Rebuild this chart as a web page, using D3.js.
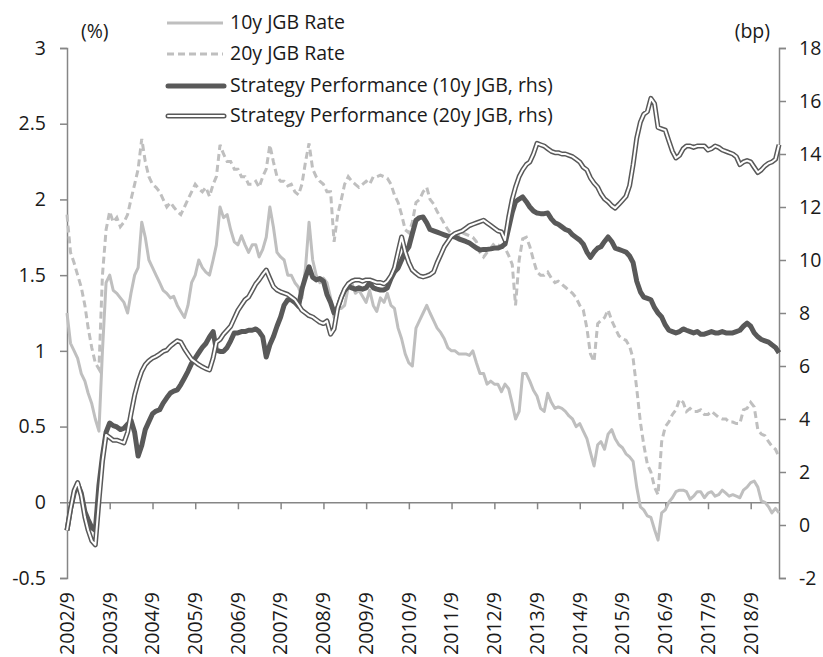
<!DOCTYPE html>
<html>
<head>
<meta charset="utf-8">
<script src="https://cdnjs.cloudflare.com/ajax/libs/d3/7.8.5/d3.min.js"></script>
<style>
  body { margin: 0; background: #fff; }
  svg { font-family: "Open Sans", "Liberation Sans", Arial, sans-serif; }
</style>
</head>
<body>
<div id="chart"></div>
<script>
// monthly observations, 2002/9 .. 2019/5
const startMonth = new Date(2002, 8, 1);

// 10y JGB rate (%)
const jgb10 = [
  1.25, 1.05, 1.0, 0.95, 0.85, 0.8, 0.72, 0.65, 0.55, 0.47, 1.0, 1.45,
  1.5, 1.4, 1.38, 1.35, 1.32, 1.25, 1.38, 1.5, 1.55, 1.85, 1.75, 1.6,
  1.55, 1.5, 1.45, 1.4, 1.38, 1.35, 1.36, 1.3, 1.26, 1.22, 1.3, 1.45,
  1.5, 1.6, 1.55, 1.52, 1.5, 1.6, 1.7, 1.95, 1.88, 1.9, 1.8, 1.72,
  1.7, 1.76, 1.7, 1.65, 1.7, 1.7, 1.62, 1.67, 1.75, 1.95, 1.82, 1.65,
  1.62, 1.6, 1.5, 1.5, 1.45, 1.42, 1.35, 1.55, 1.85, 1.6, 1.5, 1.45,
  1.48, 1.45, 1.35, 1.22, 1.28, 1.28, 1.3, 1.42, 1.45, 1.38, 1.4, 1.36,
  1.32, 1.4, 1.3, 1.26, 1.35, 1.32, 1.38, 1.3, 1.28, 1.15, 1.08, 0.98,
  0.92, 0.9, 1.15, 1.2, 1.25, 1.3, 1.25, 1.2, 1.15, 1.12, 1.08, 1.02,
  1.0, 1.0, 0.98, 0.98, 0.98, 0.97, 1.0, 0.92, 0.85, 0.85, 0.78, 0.8,
  0.78, 0.78, 0.73, 0.78, 0.75, 0.65, 0.55, 0.6, 0.85, 0.85, 0.8, 0.74,
  0.7, 0.62, 0.6, 0.72, 0.66, 0.62, 0.63, 0.62, 0.6, 0.57, 0.55, 0.5,
  0.52, 0.47, 0.42, 0.33, 0.24, 0.38, 0.4, 0.35, 0.45, 0.48, 0.42, 0.38,
  0.36, 0.32, 0.3, 0.27, 0.1, -0.03, -0.05, -0.09, -0.1, -0.18, -0.25, -0.07,
  -0.05, 0.0, 0.03, 0.07, 0.08, 0.08, 0.07, 0.02, 0.04, 0.07, 0.07, 0.03,
  0.06, 0.07, 0.04, 0.05, 0.08, 0.06, 0.04, 0.05, 0.04, 0.03, 0.08, 0.1,
  0.13, 0.14, 0.1, 0.01, 0.0, -0.03, -0.07, -0.04, -0.07
];

// 20y JGB rate (%)
const jgb20 = [
  1.9, 1.65, 1.58, 1.5, 1.42, 1.3, 1.15, 1.02, 0.92, 0.88, 1.5, 1.8,
  1.92, 1.85, 1.88, 1.82, 1.85, 1.9, 2.0, 2.1, 2.2, 2.4, 2.25, 2.15,
  2.1, 2.08, 2.05, 2.0, 1.95, 1.98, 1.95, 1.92, 1.9, 1.95, 2.0, 2.05,
  2.1, 2.07, 2.05, 2.08, 2.02, 2.1, 2.15, 2.36, 2.3, 2.25, 2.25, 2.2,
  2.2, 2.15, 2.15, 2.1, 2.1, 2.12, 2.08, 2.15, 2.2, 2.36, 2.25, 2.15,
  2.12, 2.12, 2.09, 2.1, 2.05, 2.03, 2.1, 2.25, 2.37, 2.2, 2.15, 2.12,
  2.1, 2.05, 2.05, 1.72, 1.9, 2.0, 2.1, 2.15, 2.12, 2.1, 2.08, 2.1,
  2.12, 2.1, 2.15, 2.15, 2.16, 2.15, 2.14, 2.1, 2.03, 1.98, 1.9, 1.8,
  1.78, 1.85, 1.98, 2.0, 2.05, 2.08, 2.0, 1.97, 1.92, 1.88, 1.84, 1.8,
  1.77, 1.76, 1.76, 1.78, 1.77, 1.76, 1.75, 1.72, 1.65, 1.62, 1.65, 1.68,
  1.71, 1.7, 1.69, 1.68, 1.63, 1.57, 1.3, 1.6, 1.74, 1.75, 1.69, 1.6,
  1.52, 1.5, 1.5, 1.52, 1.48, 1.45, 1.46, 1.44, 1.42, 1.4, 1.38, 1.35,
  1.3, 1.27, 1.15, 0.98, 0.93, 1.18, 1.2, 1.22, 1.27, 1.2, 1.15, 1.1,
  1.08, 1.07, 1.03, 0.95, 0.75, 0.53, 0.38, 0.25, 0.2, 0.1, 0.05, 0.4,
  0.5, 0.53, 0.58, 0.61, 0.68, 0.66, 0.6, 0.62, 0.6, 0.6, 0.61, 0.58,
  0.58, 0.6, 0.58, 0.56, 0.55, 0.55, 0.53, 0.53, 0.52, 0.52, 0.61, 0.62,
  0.66, 0.63, 0.48, 0.45, 0.44, 0.4, 0.37, 0.35, 0.3
];

// strategy performance, 10y JGB (bp, rhs)
const perf10 = [
  -0.2, 0.6, 1.2, 1.55, 1.2, 0.5, 0.2, -0.1, -0.2, 1.5, 2.6, 3.5,
  3.85, 3.75, 3.7, 3.6, 3.65, 3.8, 3.95, 3.5, 2.6, 3.0, 3.6, 3.9,
  4.2, 4.3, 4.35, 4.6, 4.8, 4.98, 5.05, 5.1, 5.3, 5.55, 5.8, 6.1,
  6.3, 6.5, 6.7, 6.85, 7.1, 7.3, 6.6, 6.55, 6.55, 6.7, 6.95, 7.25,
  7.25, 7.3, 7.3, 7.35, 7.35, 7.4, 7.3, 7.1, 6.34, 6.8, 7.1, 7.5,
  7.85, 8.3, 8.5, 8.5, 8.4, 8.25, 8.9, 9.36, 9.74, 9.35, 9.25, 9.3,
  9.2, 8.7, 8.4, 8.0, 8.2, 8.6, 8.85, 9.0, 8.95, 8.9, 8.95, 8.9,
  8.95, 9.13, 8.95, 8.9, 8.87, 8.87, 8.95, 9.3, 9.55, 9.7, 10.0, 10.3,
  10.5, 11.0, 11.5, 11.6, 11.62, 11.4, 11.15, 11.1, 11.05, 11.0, 10.95, 10.9,
  10.9, 10.87, 10.8, 10.75, 10.7, 10.64, 10.55, 10.45, 10.38, 10.4, 10.4, 10.42,
  10.45, 10.45, 10.5, 10.6, 11.2, 11.8, 12.2, 12.3, 12.38, 12.2, 12.0, 11.85,
  11.77, 11.75, 11.75, 11.77, 11.55, 11.4, 11.35, 11.25, 11.15, 11.1, 10.95, 10.85,
  10.75, 10.6, 10.3, 10.1, 10.3, 10.45, 10.5, 10.7, 10.87, 10.7, 10.45, 10.4,
  10.35, 10.3, 10.15, 9.9, 9.2, 8.8, 8.6, 8.55, 8.5, 8.2, 8.0, 7.85,
  7.55, 7.35, 7.3, 7.25, 7.3, 7.4, 7.35, 7.3, 7.25, 7.3, 7.2, 7.2,
  7.25, 7.3, 7.25, 7.25, 7.3, 7.25, 7.25, 7.25, 7.3, 7.35, 7.5, 7.62,
  7.5, 7.25, 7.1, 7.0, 6.95, 6.9, 6.8, 6.7, 6.5
];

// strategy performance, 20y JGB (bp, rhs)
const perf20 = [
  -0.2, 0.6, 1.3, 1.6, 1.1, 0.3, -0.2, -0.6, -0.75, 0.9, 2.4, 3.4,
  3.3, 3.2, 3.2, 3.15, 3.1, 3.5, 4.2, 4.9, 5.4, 5.8, 6.05, 6.2,
  6.3, 6.36, 6.45, 6.55, 6.6, 6.75, 6.85, 6.95, 6.9, 6.65, 6.45, 6.25,
  6.15, 6.05, 5.97, 5.9, 5.85, 6.3, 6.9, 7.0, 7.2, 7.35, 7.5, 7.8,
  8.1, 8.3, 8.5, 8.6, 8.85, 9.1, 9.25, 9.45, 9.62, 9.3, 9.0, 8.87,
  8.8, 8.75, 8.7, 8.6, 8.5, 8.3, 8.1, 8.0, 7.9, 7.85, 7.75, 7.65,
  7.6, 7.7, 7.2, 7.4, 8.2, 8.6, 8.9, 9.1, 9.2, 9.25, 9.25, 9.2,
  9.25, 9.25, 9.2, 9.15, 9.15, 9.1, 9.2, 9.4, 9.7, 10.3, 10.87, 10.3,
  9.9, 9.62, 9.5, 9.4, 9.36, 9.4, 9.45, 9.55, 9.9, 10.2, 10.5, 10.7,
  10.9, 11.0, 11.05, 11.1, 11.2, 11.3, 11.35, 11.4, 11.45, 11.5, 11.4, 11.3,
  11.2, 11.1, 11.06, 10.75, 11.6, 12.3, 12.75, 13.15, 13.4, 13.6, 13.7, 14.0,
  14.4, 14.35, 14.3, 14.2, 14.1, 14.05, 14.05, 14.0, 14.0, 13.95, 13.9, 13.8,
  13.7, 13.5, 13.4, 13.1, 12.9, 12.75, 12.5, 12.3, 12.2, 12.05, 11.96, 12.1,
  12.25, 12.4, 12.8, 13.6, 14.6, 15.2, 15.5, 15.6, 16.1, 15.9, 15.0, 14.95,
  14.9, 14.5, 14.1, 13.85, 13.95, 14.2, 14.3, 14.3, 14.25, 14.3, 14.3, 14.3,
  14.15, 14.2, 14.3, 14.25, 14.15, 14.1, 14.05, 14.0, 13.9, 13.6, 13.7, 13.75,
  13.7, 13.5, 13.3, 13.4, 13.55, 13.65, 13.7, 13.8, 14.35
];

const tickLabels = ["2002/9", "2003/9", "2004/9", "2005/9", "2006/9", "2007/9",
  "2008/9", "2009/9", "2010/9", "2011/9", "2012/9", "2013/9", "2014/9",
  "2015/9", "2016/9", "2017/9", "2018/9"];
const leftTicks = [-0.5, 0, 0.5, 1, 1.5, 2, 2.5, 3];
const rightTicks = [-2, 0, 2, 4, 6, 8, 10, 12, 14, 16, 18];

const legendNames = ["10y JGB Rate", "20y JGB Rate",
  "Strategy Performance (10y JGB, rhs)", "Strategy Performance (20y JGB, rhs)"];

// chart box
const W = 823, H = 657;
const plotL = 67, plotR = 779, plotT = 48, plotB = 578;
const axisColor = "#868686";
const textColor = "#1a1a1a";
const fontSize = "19.5px";

const svg = d3.select("#chart").append("svg")
    .attr("width", W)
    .attr("height", H);

const months = d3.range(jgb10.length).map(i => d3.timeMonth.offset(startMonth, i));
const tickDates = tickLabels.map(s => {
  const [y, m] = s.split("/").map(Number);
  return new Date(y, m - 1, 1);
});

const x = d3.scaleTime()
    .domain([startMonth, months[months.length - 1]])
    .range([plotL, plotR]);
const yL = d3.scaleLinear().domain([-0.5, 3]).range([plotB, plotT]);
const yR = d3.scaleLinear().domain([-2, 18]).range([plotB, plotT]);

// axes
const styleAxis = g => {
  g.select(".domain").attr("stroke", axisColor).attr("stroke-width", 1.5);
  g.selectAll(".tick line").attr("stroke", axisColor).attr("stroke-width", 1.5);
  g.selectAll("text").attr("fill", textColor).style("font-size", fontSize)
    .style("font-family", "'Open Sans', 'Liberation Sans', Arial, sans-serif");
};

svg.append("g")
    .attr("transform", "translate(" + plotL + ",0)")
    .call(d3.axisLeft(yL).tickValues(leftTicks).tickFormat(d => String(d))
      .tickSize(7).tickSizeOuter(7).tickPadding(14))
    .call(styleAxis);

svg.append("g")
    .attr("transform", "translate(" + plotR + ",0)")
    .call(d3.axisRight(yR).tickValues(rightTicks).tickFormat(d => String(d))
      .tickSize(7).tickSizeOuter(7).tickPadding(13))
    .call(styleAxis);

svg.append("g")
    .attr("transform", "translate(0," + yL(0) + ")")
    .call(d3.axisBottom(x).tickValues(tickDates.slice(1)).tickFormat("")
      .tickSize(7).tickSizeOuter(0))
    .call(styleAxis);

svg.append("g").selectAll("text")
  .data(tickDates)
  .join("text")
    .attr("transform", d => "translate(" + x(d) + "," + 592 + ")rotate(-90)")
    .attr("text-anchor", "end")
    .attr("dy", "0.35em")
    .attr("fill", textColor)
    .style("font-size", fontSize)
    .text((d, i) => tickLabels[i]);

// unit labels
svg.append("text").attr("x", 81).attr("y", 38).attr("fill", textColor)
  .style("font-size", fontSize).text("(%)");
svg.append("text").attr("x", 770).attr("y", 38).attr("text-anchor", "end")
  .attr("fill", textColor).style("font-size", fontSize).text("(bp)");

// lines
const lineL = d3.line().x((d, i) => x(months[i])).y(d => yL(d));
const lineR = d3.line().x((d, i) => x(months[i])).y(d => yR(d));

svg.append("path").datum(jgb10)
  .attr("d", lineL).attr("fill", "none")
  .attr("stroke", "#bfbfbf").attr("stroke-width", 3)
  .attr("stroke-linejoin", "round");

svg.append("path").datum(jgb20)
  .attr("d", lineL).attr("fill", "none")
  .attr("stroke", "#bfbfbf").attr("stroke-width", 3)
  .attr("stroke-dasharray", "7,4");

svg.append("path").datum(perf10)
  .attr("d", lineR).attr("fill", "none")
  .attr("stroke", "#595959").attr("stroke-width", 5)
  .attr("stroke-linejoin", "round");

svg.append("path").datum(perf20)
  .attr("d", lineR).attr("fill", "none")
  .attr("stroke", "#595959").attr("stroke-width", 5)
  .attr("stroke-linejoin", "round");
svg.append("path").datum(perf20)
  .attr("d", lineR).attr("fill", "none")
  .attr("stroke", "#fff").attr("stroke-width", 2)
  .attr("stroke-linejoin", "round");

// legend
const legend = svg.append("g");
const rowsY = [23, 54, 86, 116];
legendNames.forEach((name, i) => {
  const y = rowsY[i];
  if (i === 0) {
    legend.append("line").attr("x1", 167).attr("x2", 223).attr("y1", y).attr("y2", y)
      .attr("stroke", "#bfbfbf").attr("stroke-width", 3);
  } else if (i === 1) {
    legend.append("line").attr("x1", 167).attr("x2", 223).attr("y1", y).attr("y2", y)
      .attr("stroke", "#bfbfbf").attr("stroke-width", 3).attr("stroke-dasharray", "7,4");
  } else {
    legend.append("line").attr("x1", 168).attr("x2", 224).attr("y1", y).attr("y2", y)
      .attr("stroke", "#595959").attr("stroke-width", 5).attr("stroke-linecap", "round");
    if (i === 3) {
      legend.append("line").attr("x1", 168).attr("x2", 224).attr("y1", y).attr("y2", y)
        .attr("stroke", "#fff").attr("stroke-width", 2).attr("stroke-linecap", "round");
    }
  }
  legend.append("text").attr("x", 230).attr("y", y + 6)
    .attr("fill", textColor).style("font-size", fontSize).text(name);
});
</script>
</body>
</html>
